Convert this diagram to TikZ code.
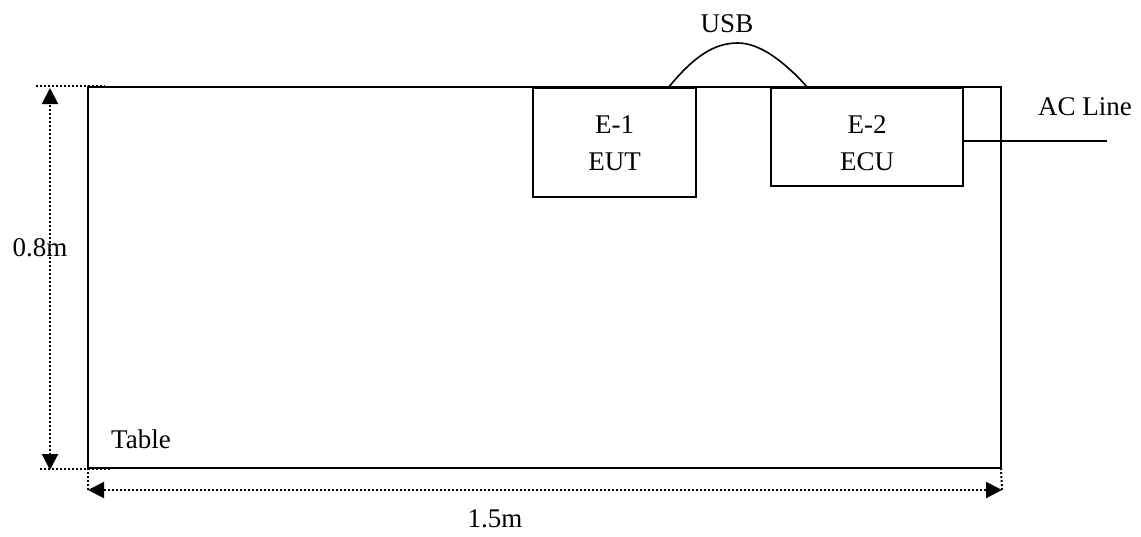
\documentclass[tikz,border=0pt]{standalone}
\usepackage{fontspec}
\setmainfont{Liberation Serif}
\usetikzlibrary{arrows.meta, positioning}

\begin{document}
\begin{tikzpicture}[x=1pt, y=-1pt, font=\fontsize{27}{37.5}\selectfont,
    box/.style={draw, line width=2pt, inner sep=0pt, outer sep=0pt},
    dim/.style={line width=2pt, dash pattern=on 2pt off 2pt},
    dimarrow/.style={dim, {Triangle[length=16pt, width=16pt]}-{Triangle[length=16pt, width=16pt]}}]
    \useasboundingbox (0,0) rectangle (1141,536);
    \node[box, minimum width=913, minimum height=381] (table) at (544.5,277.5) {};
    \node[box, minimum width=163, minimum height=108.5] (eut) at (614.5,142.25) {};
    \node[box, minimum width=192, minimum height=97.5] (ecu) at (867,136.75) {};
    \node[align=center] (euttext) at (614.5,143.25) {E-1\\EUT};
    \node[align=center] (ecutext) at (867,143.25) {E-2\\ECU};
    \node (usblabel) at (727,24) {USB};
    \node (aclabel) at (1085,107) {AC Line};
    \node (tablelabel) at (141,439) {Table};
    \node (heightlabel) at (40,248) {0.8m};
    \node (widthlabel) at (495,519) {1.5m};
    \coordinate (acend) at (1107,141);
    \draw[line width=1.6pt] ([xshift=53.5pt]eut.north) .. controls (695,55) and (715,43) .. (738,43)
        .. controls (760,43) and (785,62) .. ([xshift=-59pt]ecu.north);
    \draw[line width=2pt] ([yshift=-4.25pt]ecu.east) -- (acend);
    \coordinate (hdimtop) at (50,88);
    \coordinate (hdimbot) at (50,470);
    \coordinate (wdimleft) at (88,490);
    \coordinate (wdimright) at (1002,490);
    \draw[dim] (36,86) -- (105,86);
    \draw[dim] (40,469) -- (110,469);
    \draw[dim] (table.south west) -- (wdimleft);
    \draw[dim] (table.south east) -- (wdimright);
    \draw[dimarrow] (hdimbot) -- (hdimtop);
    \draw[dimarrow] (wdimleft) -- (wdimright);
\end{tikzpicture}
\end{document}
